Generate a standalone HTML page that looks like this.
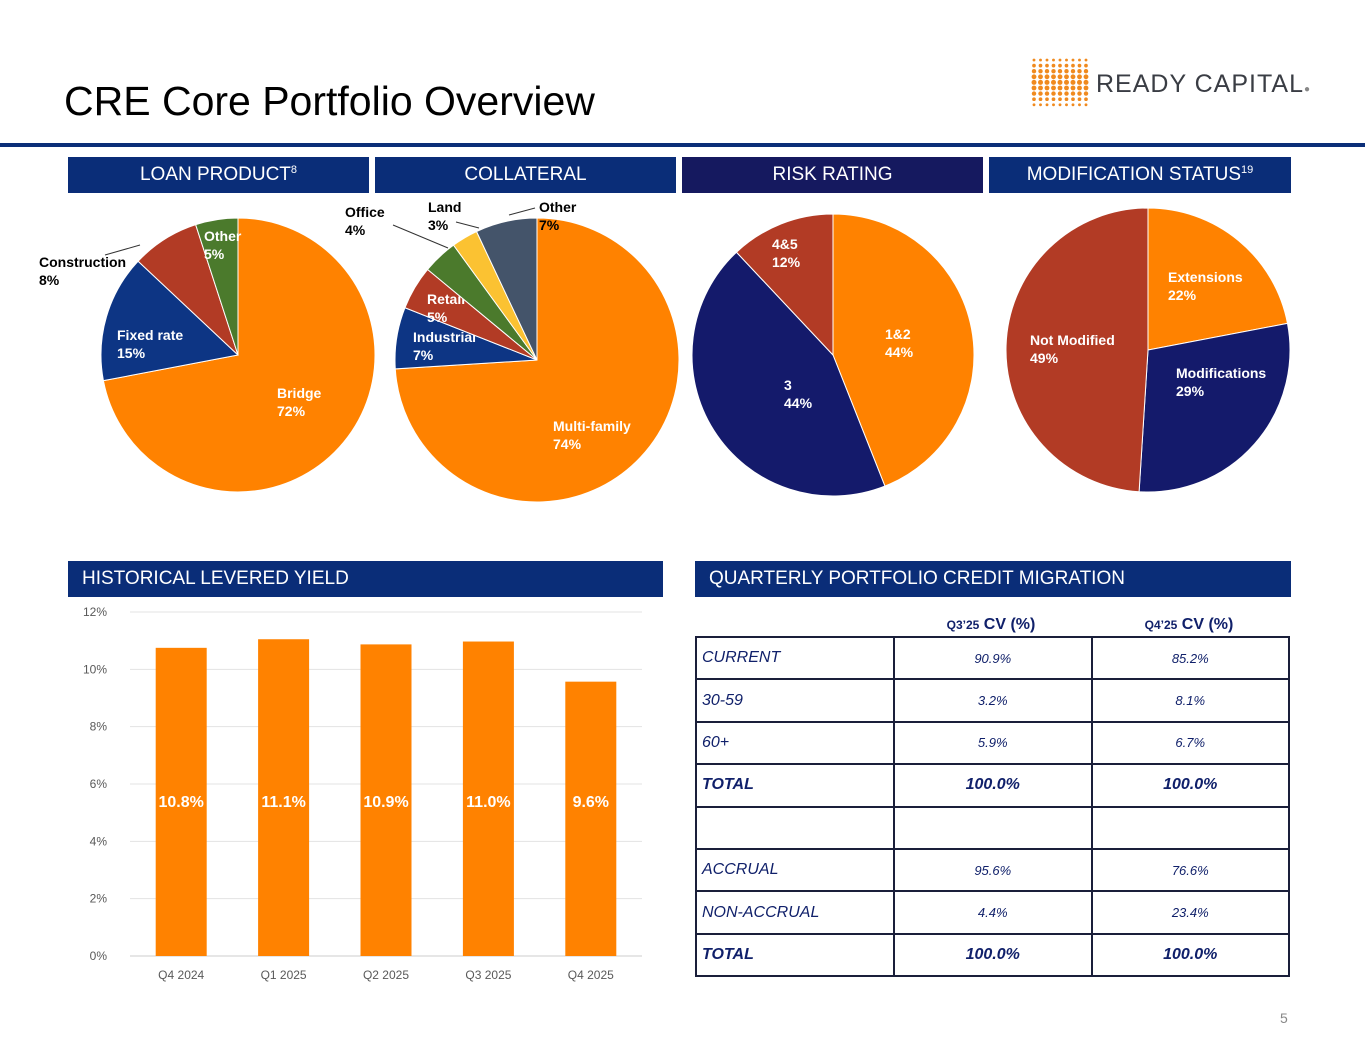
<!DOCTYPE html>
<html><head><meta charset="utf-8"><style>
body{margin:0;width:1365px;height:1055px;background:#fff;font-family:"Liberation Sans",sans-serif;position:relative;overflow:hidden}
.abs{position:absolute}
.hdr{position:absolute;height:36px;color:#fff;font-size:19px;line-height:36px;background:#0a2d78}
.hdr sup{font-size:11px;line-height:0;vertical-align:7px}
.ctr{text-align:center}
table{border-collapse:collapse;position:absolute;left:695px;top:636px;width:595px;font-style:italic;color:#10206a}
td{border:2px solid #1a1f3a;height:40.4px;font-size:13px;text-align:center;padding:0}
td:first-child{text-align:left;padding-left:5px;font-size:16px;width:191px}
td.b{font-weight:bold;font-size:16px}
</style></head><body>
<div class="abs" style="left:64px;top:78px;font-size:41px;color:#000">CRE Core Portfolio Overview</div>
<div class="abs" style="left:1030px;top:56px;width:60px;height:52px">
<svg width="60" height="52"><g fill="#f08a1e" id="dots"></g></svg></div>
<div class="abs" style="left:1096px;top:70px;font-size:25px;color:#3a3d44;letter-spacing:1px">READY CAPITAL<span style="font-size:10px;color:#888">●</span></div>
<div class="abs" style="left:0;top:143px;width:1365px;height:4px;background:#0b2e78"></div>

<div class="hdr ctr" style="left:68px;width:301px;top:157px">LOAN PRODUCT<sup>8</sup></div>
<div class="hdr ctr" style="left:375px;width:301px;top:157px">COLLATERAL</div>
<div class="hdr ctr" style="left:682px;width:301px;top:157px;background:#15195f">RISK RATING</div>
<div class="hdr ctr" style="left:989px;width:302px;top:157px">MODIFICATION STATUS<sup>19</sup></div>
<div class="hdr" style="left:68px;width:581px;padding-left:14px;top:561px">HISTORICAL LEVERED YIELD</div>
<div class="hdr" style="left:695px;width:582px;padding-left:14px;top:561px">QUARTERLY PORTFOLIO CREDIT MIGRATION</div>

<svg class="abs" id="pies" style="left:0;top:0" width="1365" height="560"></svg>
<svg class="abs" id="bars" style="left:0;top:0" width="680" height="1000"></svg>

<div class="abs ctr" style="left:892px;width:198px;top:616px;font-weight:bold;color:#10206a;font-size:16px"><span style="font-size:12px">Q3’25</span> CV (%)</div>
<div class="abs ctr" style="left:1090px;width:198px;top:616px;font-weight:bold;color:#10206a;font-size:16px"><span style="font-size:12px">Q4’25</span> CV (%)</div>
<table>
<tr><td>CURRENT</td><td>90.9%</td><td>85.2%</td></tr>
<tr><td>30-59</td><td>3.2%</td><td>8.1%</td></tr>
<tr><td>60+</td><td>5.9%</td><td>6.7%</td></tr>
<tr><td class="b">TOTAL</td><td class="b">100.0%</td><td class="b">100.0%</td></tr>
<tr><td></td><td></td><td></td></tr>
<tr><td>ACCRUAL</td><td>95.6%</td><td>76.6%</td></tr>
<tr><td>NON-ACCRUAL</td><td>4.4%</td><td>23.4%</td></tr>
<tr><td class="b">TOTAL</td><td class="b">100.0%</td><td class="b">100.0%</td></tr>
</table>
<div class="abs" style="left:1280px;top:1010px;font-size:14px;color:#888">5</div>

<script>
const NS="http://www.w3.org/2000/svg";
function mk(p,t,a){const e=document.createElementNS(NS,t);for(const k in a)e.setAttribute(k,a[k]);p.appendChild(e);return e;}
const dg=document.getElementById('dots');
for(let i=0;i<9;i++)for(let j=0;j<9;j++){const r=1.2+1.3*Math.sin(Math.PI*(j+0.5)/9);mk(dg,'circle',{cx:4+i*6.5,cy:4+j*5.6,r:r.toFixed(2)});}

const loanLabels=["Bridge","Fixed rate","Construction","Other"];
const loanValues=[72,15,8,5];
const collLabels=["Multi-family","Industrial","Retail","Office","Land","Other"];
const collValues=[74,7,5,4,3,7];
const riskLabels=["1&2","3","4&5"];
const riskValues=[44,44,12];
const modLabels=["Extensions","Modifications","Not Modified"];
const modValues=[22,29,49];

const O="#ff8200",N="#0d3584",R="#b23b25",G="#4b7a2c",Y="#fbc232",S="#44546a",DN="#141a6b";
const pies=document.getElementById('pies');
function pie(cx,cy,r,vals,cols,labs,pos,name){
  const tot=vals.reduce((a,b)=>a+b,0);let a0=0;
  vals.forEach((v,i)=>{
    const a1=a0+v/tot*2*Math.PI;
    const x0=cx+r*Math.sin(a0),y0=cy-r*Math.cos(a0),x1=cx+r*Math.sin(a1),y1=cy-r*Math.cos(a1);
    const p=mk(pies,'path',{d:`M${cx},${cy}L${x0},${y0}A${r},${r} 0 ${a1-a0>Math.PI?1:0} 1 ${x1},${y1}Z`,fill:cols[i],stroke:'#fff','stroke-width':1});
    
    
    const [lx,ly,c]=pos[i];
    const t=mk(pies,'text',{x:lx,y:ly,fill:c,'font-size':14,'font-weight':'bold','font-family':'Liberation Sans'});
    
    
    mk(t,'tspan',{x:lx}).textContent=labs[i];
    mk(t,'tspan',{x:lx,dy:18}).textContent=Math.round(v/tot*100)+'%';
    a0=a1;
  });
}
pie(238,355,137,loanValues,[O,N,R,G],loanLabels,[[277,398,'#fff'],[117,340,'#fff'],[39,267,'#000'],[204,241,'#fff']],'loan');
pie(537,360,142,collValues,[O,N,R,G,Y,S],collLabels,[[553,431,'#fff'],[413,342,'#fff'],[427,304,'#fff'],[345,217,'#000'],[428,212,'#000'],[539,212,'#000']],'collateral');
pie(833,355,141,riskValues,[O,DN,R],riskLabels,[[885,339,'#fff'],[784,390,'#fff'],[772,249,'#fff']],'risk');
pie(1148,350,142,modValues,[O,DN,R],modLabels,[[1168,282,'#fff'],[1176,378,'#fff'],[1030,345,'#fff']],'modification');
[[105,255,140,245],[393,225,448,248],[456,222,479,228],[509,215,535,208]].forEach(l=>{const e=mk(pies,'line',{x1:l[0],y1:l[1],x2:l[2],y2:l[3],stroke:'#333','stroke-width':1});});

const quarters=["Q4 2024","Q1 2025","Q2 2025","Q3 2025","Q4 2025"];
const yieldValues=[10.75,11.05,10.87,10.97,9.57];
const yieldLabels=["10.8%","11.1%","10.9%","11.0%","9.6%"];
const yTicks=[0,2,4,6,8,10,12];
const bs=document.getElementById('bars');
const X0=130,X1=642,Y0=956,Y1=612;
const yS=v=>Y0-(v/12)*(Y0-Y1);
const band=(X1-X0)/quarters.length;
const xC=i=>X0+band*(i+0.5);
yTicks.forEach(t=>{
  const l=mk(bs,'line',{x1:X0,x2:X1,y1:yS(t),y2:yS(t),stroke:t?'#e3e3e3':'#ccc'});
  
  const tx=mk(bs,'text',{x:107,y:yS(t)+4,'text-anchor':'end','font-size':12,fill:'#595959'});
  
  tx.textContent=t+'%';
});
quarters.forEach((q,i)=>{
  const r=mk(bs,'rect',{x:xC(i)-25.5,y:yS(yieldValues[i]),width:51,height:Y0-yS(yieldValues[i]),fill:O});
  
  const v=mk(bs,'text',{x:xC(i),y:807,'text-anchor':'middle','font-size':16,'font-weight':'bold',fill:'#fff'});
  
  v.textContent=yieldLabels[i];
  const c=mk(bs,'text',{x:xC(i),y:979,'text-anchor':'middle','font-size':12,fill:'#595959'});
  
  c.textContent=q;
});
</script>
</body></html>
